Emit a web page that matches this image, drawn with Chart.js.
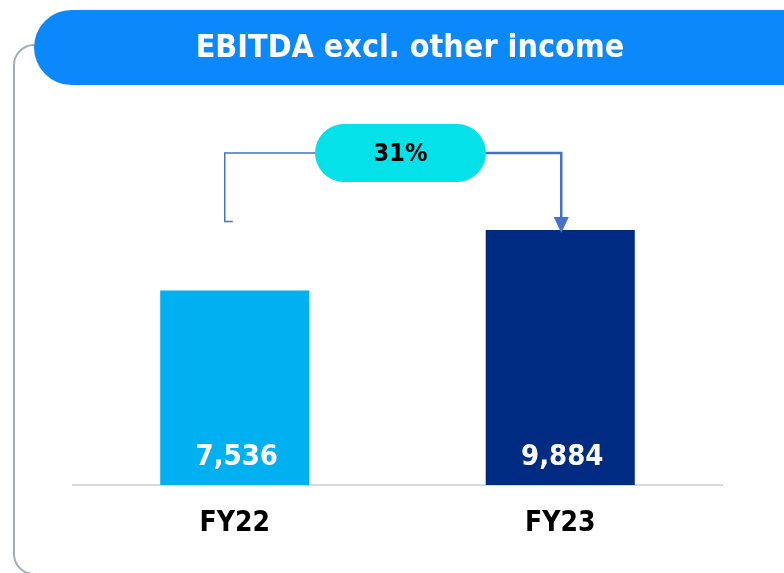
<!DOCTYPE html>
<html>
<head>
<meta charset="utf-8">
<script src="https://cdn.jsdelivr.net/npm/chart.js@4.4.0/dist/chart.umd.min.js"></script>
<style>
  html, body { margin: 0; padding: 0; background: #fff; }
  #wrap { width: 784px; height: 573px; }
</style>
</head>
<body>
<div id="wrap"><canvas id="ebitda" width="784" height="573"></canvas></div>
<script>
const categories = ['FY22', 'FY23'];
const ebitda = [7536, 9884];
const growthLabel = '31%';
const title = 'EBITDA excl. other income';

const barColors = ['#00b0f0', '#002b82'];
const FONT = "'DejaVu Sans Condensed', 'DejaVu Sans', sans-serif";

function roundRect(ctx, x, y, w, h, r) {
  ctx.beginPath();
  ctx.moveTo(x + r, y);
  ctx.lineTo(x + w - r, y);
  ctx.arc(x + w - r, y + r, r, -Math.PI / 2, Math.PI / 2);
  ctx.lineTo(x + r, y + h);
  ctx.arc(x + r, y + r, r, Math.PI / 2, Math.PI * 1.5);
  ctx.closePath();
}

// frame, title pill, baseline, labels and the growth bracket
const decor = {
  id: 'decor',
  beforeDatasetsDraw(chart) {
    const ctx = chart.ctx;
    const area = chart.chartArea;
    ctx.save();
    // grey frame on the left
    ctx.strokeStyle = '#a3adb3';
    ctx.lineWidth = 2;
    ctx.beginPath();
    ctx.moveTo(40, 45);
    ctx.lineTo(34, 45);
    ctx.arcTo(14, 45, 14, 65, 20);
    ctx.lineTo(14, 554);
    ctx.arcTo(14, 574, 34, 574, 20);
    ctx.lineTo(800, 574);
    ctx.stroke();
    // title pill
    ctx.fillStyle = '#0b89fc';
    roundRect(ctx, 34, 10, 788, 75, 37.5);
    ctx.fill();
    ctx.fillStyle = '#ffffff';
    ctx.font = 'bold 32px ' + FONT;
    ctx.textAlign = 'center';
    ctx.textBaseline = 'middle';
    ctx.fillText(title, 410, 49);
    // baseline
    ctx.strokeStyle = '#d9d9d9';
    ctx.lineWidth = 2;
    ctx.beginPath();
    ctx.moveTo(area.left, area.bottom);
    ctx.lineTo(area.right, area.bottom);
    ctx.stroke();
    ctx.restore();
  },
  afterDatasetsDraw(chart) {
    const ctx = chart.ctx;
    const x = chart.scales.x;
    const y = chart.scales.y;
    const area = chart.chartArea;
    ctx.save();
    ctx.textAlign = 'center';
    ctx.textBaseline = 'middle';
    // values inside bars and category labels
    categories.forEach((c, i) => {
      const cx = x.getPixelForValue(i);
      ctx.fillStyle = '#ffffff';
      ctx.font = 'bold 29px ' + FONT;
      ctx.fillText(ebitda[i].toLocaleString('en-US'), cx + 2, area.bottom - 28);
      ctx.fillStyle = '#000000';
      ctx.font = 'bold 28px ' + FONT;
      ctx.fillText(c, cx, area.bottom + 39);
    });
    // growth bracket
    const lx = x.getPixelForValue(0) - 10;
    const rx = x.getPixelForValue(1) + 1;
    const ly = 153;
    const pillL = 315, pillR = 486;
    const tip = y.getPixelForValue(ebitda[1]) + 3;
    ctx.strokeStyle = '#4472c4';
    ctx.lineWidth = 1.5;
    ctx.beginPath();
    ctx.moveTo(lx + 8, 221.5);
    ctx.lineTo(lx, 221.5);
    ctx.lineTo(lx, ly);
    ctx.lineTo(pillL + 10, ly);
    ctx.stroke();
    ctx.lineWidth = 2.5;
    ctx.beginPath();
    ctx.moveTo(pillR - 10, ly);
    ctx.lineTo(rx, ly);
    ctx.lineTo(rx, tip - 14);
    ctx.stroke();
    ctx.fillStyle = '#4472c4';
    ctx.beginPath();
    ctx.moveTo(rx - 7.5, tip - 16);
    ctx.lineTo(rx + 7.5, tip - 16);
    ctx.lineTo(rx, tip);
    ctx.closePath();
    ctx.fill();
    // growth pill
    ctx.fillStyle = '#05e1e8';
    roundRect(ctx, pillL, 124, pillR - pillL, 58, 29);
    ctx.fill();
    ctx.fillStyle = '#000000';
    ctx.font = 'bold 25px ' + FONT;
    ctx.fillText(growthLabel, (pillL + pillR) / 2, 154);
    ctx.restore();
  }
};

new Chart(document.getElementById('ebitda'), {
  type: 'bar',
  data: {
    labels: categories,
    datasets: [{
      data: ebitda,
      backgroundColor: barColors,
      borderWidth: 0,
      barPercentage: 0.458,
      categoryPercentage: 1
    }]
  },
  options: {
    responsive: false,
    animation: false,
    layout: { padding: { left: 72, right: 61, top: 98, bottom: 88 } },
    plugins: { legend: { display: false }, tooltip: { enabled: false } },
    scales: {
      x: { display: false },
      y: { display: false, min: 0, max: 15000 }
    }
  },
  plugins: [decor]
});
</script>
</body>
</html>
